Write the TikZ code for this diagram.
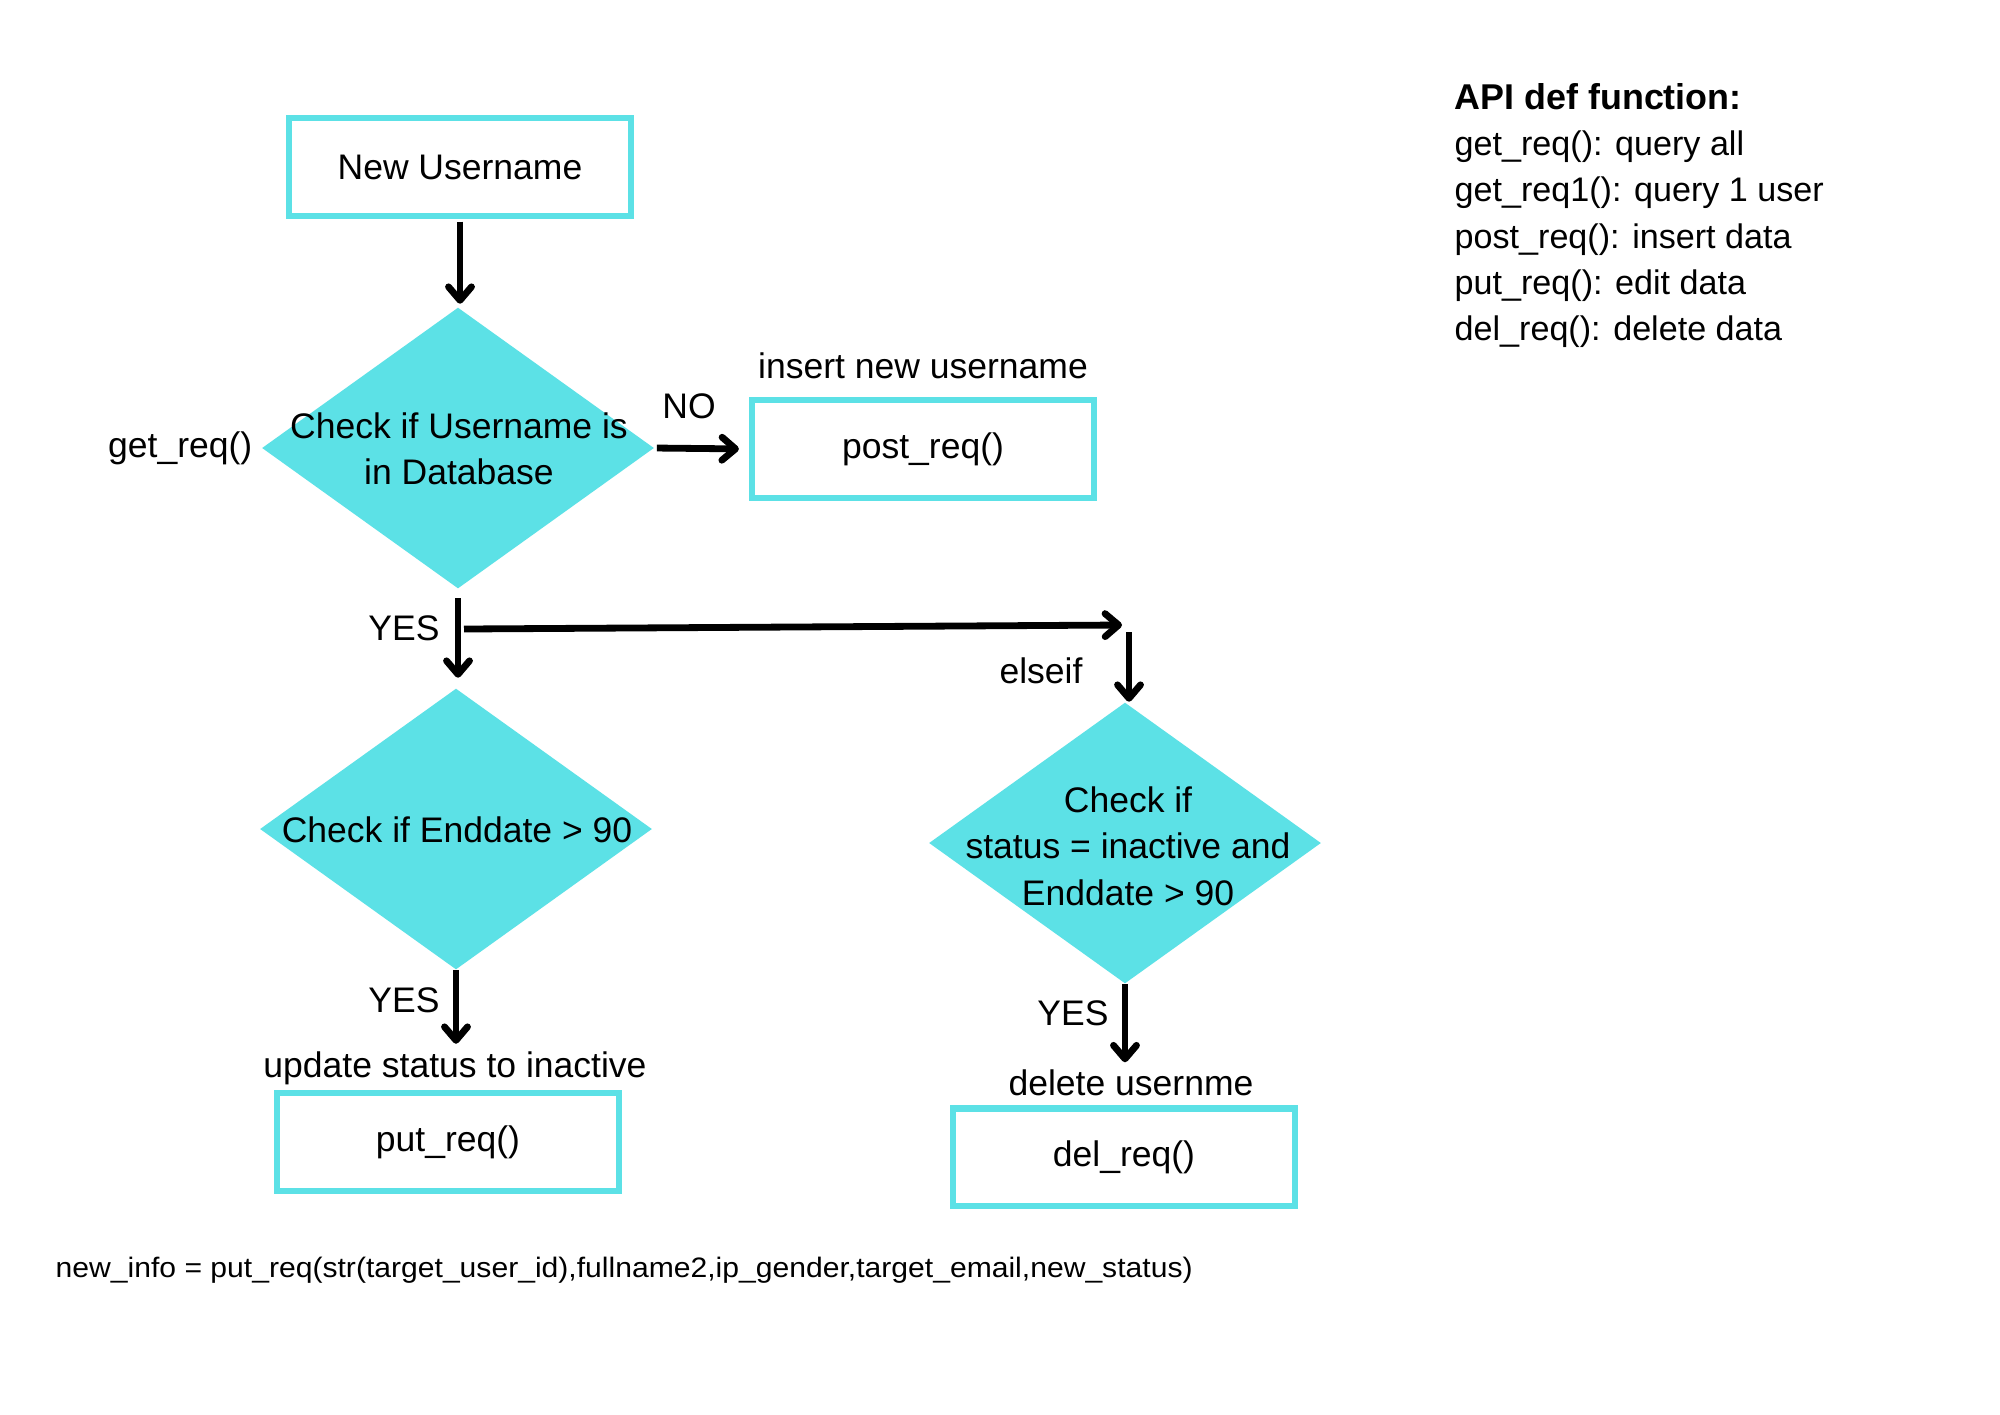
\documentclass[tikz,border=0pt]{standalone}
\usepackage{fontspec}
\setmainfont{Liberation Sans}
\usetikzlibrary{shapes.geometric,arrows.meta}
\definecolor{tq}{HTML}{5CE1E6}
\begin{document}
\begin{tikzpicture}[x=0.01cm,y=-0.01cm,
  every node/.style={font=\fontsize{10.1}{13.2}\selectfont, inner sep=0pt},
  box/.style={draw=tq,line width=0.6mm,minimum width=3.42cm,minimum height=0.97cm,fill=white},
  dia/.style={diamond,fill=tq,minimum width=3.92cm,minimum height=2.81cm,inner sep=0pt},
  arr/.style={line width=0.68mm,-{Straight Barb[length=1.35mm,width=2.3mm,line cap=round,line join=round]}},
  legtext/.style={anchor=base west,font=\fontsize{9.7}{13.2}\selectfont}
]
\useasboundingbox (0,0) rectangle (2000,1414);
\fill[white] (0,0) rectangle (2000,1414);

% boxes
\node[box] (new) at (460,167) {New Username};
\node[box] (post) at (923,449) {post\_req()};
\node[box] (put) at (448,1142) {put\_req()};
\node[box] (del) at (1124,1157) {del\_req()};

% diamonds
\node[dia] (d1) at (458,448) {};
\node[align=center] (t1) at (459,449) {Check if Username is\\in Database};
\node[dia] (d2) at (456,829) {};
\node (t2) at (457,830) {Check if Enddate > 90};
\node[dia] (d3) at (1125,843) {};
\node[align=center] (t3) at (1128,846) {Check if\\status = inactive and\\Enddate > 90};

% labels
\node[anchor=east] (get) at (253,448) {get\_req()};
\node (no) at (689,406) {NO};
\node (ins) at (923,366) {insert new username};
\node (yes1) at (404,628) {YES};
\node (elseif) at (1041,671) {elseif};
\node (yes2) at (404,1000) {YES};
\node (upd) at (455,1068) {update status to inactive};
\node (yes3) at (1073,1013) {YES};
\node (dlab) at (1131,1083) {delete usernme};

% connectors
\draw[arr,shorten <=0.03cm,shorten >=0.03cm] (new.south) -- (new.south |- d1.north);
\draw[arr,shorten <=0.02cm,shorten >=0.1cm] (d1.east) -- (post.west);
\draw[arr,shorten <=0.09cm,shorten >=0.1cm] (d1.south) -- (d1.south |- d2.north);
\coordinate (hs) at (464,629);
\coordinate (he) at (1122,625);
\draw[arr] (hs) -- (he);
\coordinate (vs) at (1129,632);
\draw[arr] (vs) -- (vs |- d3.north);
\draw[arr,shorten >=0.07cm] (d2.south) -- (d2.south |- upd.north);
\draw[arr,shorten >=0.07cm] (d3.south) -- (d3.south |- dlab.north);

% legend
\node[legtext,font=\fontsize{10.2}{13.2}\selectfont\bfseries] (lh) at (1454,109) {API def function:};
\node[legtext] (l1) at (1454,155) {get\_req(): query all};
\node[legtext] (l2) at (1454,201) {get\_req1(): query 1 user};
\node[legtext] (l3) at (1454,248) {post\_req(): insert data};
\node[legtext] (l4) at (1454,294) {put\_req(): edit data};
\node[legtext] (l5) at (1454,340) {del\_req(): delete data};

% footnote
\node[anchor=west,font=\fontsize{8}{9}\selectfont] (foot) at (55,1270) {\scalebox{1.07}[1]{new\_info = put\_req(str(target\_user\_id),fullname2,ip\_gender,target\_email,new\_status)}};
\end{tikzpicture}
\end{document}
